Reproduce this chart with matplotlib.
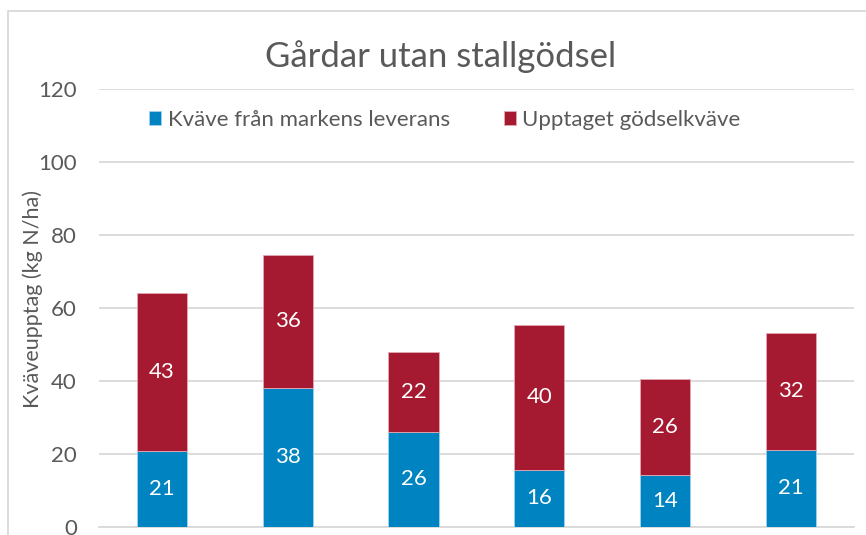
import matplotlib
matplotlib.use("Agg")
import matplotlib.pyplot as plt
import numpy as np
from matplotlib.patches import Rectangle

# values (labels show rounded numbers)
farms = ["1", "2", "3", "4", "5", "6"]
soil_n = [20.7, 38.1, 25.9, 15.6, 14.2, 21.1]
manure_n = [43.2, 36.3, 21.9, 39.6, 26.4, 31.9]
series_names = ["Kväve från markens leverans", "Upptaget gödselkväve"]
yticks = [0, 20, 40, 60, 80, 100, 120]

blue = "#0083C1"
red = "#A61A31"
grey = "#595959"

plt.rcParams['font.family'] = ['Lato', 'DejaVu Sans']

fig = plt.figure(figsize=(8.66, 5.35), dpi=100)
ax = fig.add_axes([99 / 866, 8.3 / 535, (853.7 - 99) / 866, (526.7 - 88.7) / 535])

x = np.arange(len(farms))
b1 = ax.bar(x, soil_n, 0.4, color=blue, edgecolor="#9FD3EE", linewidth=0.6,
            label=series_names[0], zorder=3)
b2 = ax.bar(x, manure_n, 0.4, bottom=soil_n, color=red, edgecolor="#E3A9B3",
            linewidth=0.6, label=series_names[1], zorder=3)

for bars, vals, base in [(b1, soil_n, [0] * len(farms)), (b2, manure_n, soil_n)]:
    for i, v in enumerate(vals):
        ax.text(x[i], base[i] + v / 2, "%d" % round(v), ha="center", va="center",
                color="white", fontsize=16, zorder=4)

ax.set_xlim(-0.5, len(farms) - 0.5)
ax.set_ylim(0, 120)
ax.set_yticks(yticks)
ax.set_xticks([])
ax.yaxis.grid(True, color="#D9D9D9", linewidth=1.3, zorder=0)
for s in ax.spines.values():
    s.set_visible(False)
ax.spines["bottom"].set_visible(True)
ax.spines["bottom"].set_color("#D9D9D9")
ax.spines["bottom"].set_linewidth(1.3)
ax.tick_params(axis="y", length=0, labelsize=16, labelcolor=grey, pad=16)
ax.set_ylabel("Kväveupptag (kg N/ha)", fontsize=15.5, color=grey)
ax.yaxis.set_label_coords((43 - 99) / (853.7 - 99), (526.7 - 299) / 438)

ax.legend(loc="center", bbox_to_anchor=((445 - 99) / 754.7, (526.7 - 120) / 438), ncol=2,
          frameon=False, fontsize=16, labelcolor=grey, handlelength=0.55, handleheight=0.55,
          handletextpad=0.3, columnspacing=2.4)

fig.text(441 / 866, 1 - 57 / 535, "Gårdar utan stallgödsel", ha="center", va="center",
         fontsize=25, color=grey)

# chart frame, cut off at right and bottom in the picture
fig.add_artist(Rectangle((8 / 866, -0.1), 1.2, 1.1 - 11 / 535, transform=fig.transFigure,
                         fill=False, edgecolor="#D9D9D9", linewidth=1.3))

fig.savefig("out.png", dpi=100)
